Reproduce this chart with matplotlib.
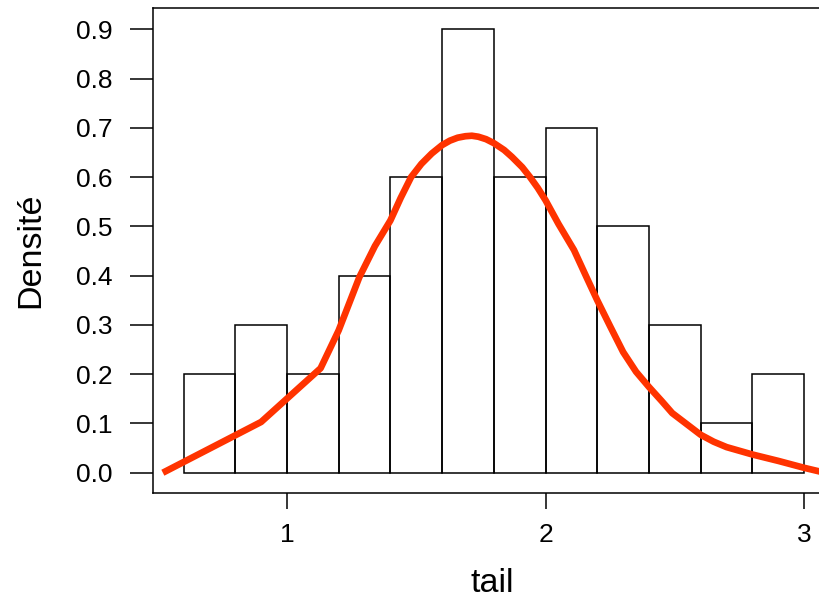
import matplotlib
matplotlib.use("Agg")
import matplotlib.pyplot as plt
import numpy as np

plt.rcParams['font.family'] = ['Liberation Sans', 'DejaVu Sans']

# histogram of tail (density scale, bins of 0.2)
bin_edges = [0.6, 0.8, 1.0, 1.2, 1.4, 1.6, 1.8, 2.0, 2.2, 2.4, 2.6, 2.8, 3.0]
densite = [0.2, 0.3, 0.2, 0.4, 0.6, 0.9, 0.6, 0.7, 0.5, 0.3, 0.1, 0.2]

# estimated density curve
dens_x = [0.52, 0.90, 1.13, 1.20, 1.24, 1.28, 1.34, 1.40, 1.44, 1.48, 1.52, 1.56,
          1.60, 1.63, 1.66, 1.69, 1.715, 1.74, 1.77, 1.80, 1.84, 1.87, 1.91, 1.94,
          1.97, 2.00, 2.05, 2.11, 2.16, 2.20, 2.25, 2.30, 2.35, 2.40, 2.45, 2.49,
          2.55, 2.60, 2.65, 2.70, 2.80, 2.90, 3.00, 3.08]
dens_y = [0.0, 0.103, 0.212, 0.289, 0.343, 0.397, 0.460, 0.512, 0.558, 0.600, 0.627, 0.648,
          0.665, 0.674, 0.680, 0.683, 0.684, 0.682, 0.677, 0.669, 0.655, 0.641, 0.620, 0.600,
          0.578, 0.553, 0.505, 0.452, 0.395, 0.350, 0.297, 0.245, 0.205, 0.174, 0.145, 0.121,
          0.097, 0.077, 0.063, 0.052, 0.037, 0.024, 0.010, 0.0]

fig = plt.figure(figsize=(8.2, 6), dpi=100)
ax = fig.add_axes([0.1862, 0.1778, 0.8321, 0.8093])

lefts = np.array(bin_edges[:-1])
widths = np.diff(bin_edges)
ax.bar(lefts, densite, width=widths, align='edge', fill=False,
       edgecolor='black', linewidth=1.1)
ax.plot(dens_x, dens_y, color='#ff3300', linewidth=4.8,
        solid_capstyle='butt', solid_joinstyle='round')

ax.set_xlim(0.4807, 3.1194)
ax.set_ylim(-0.0418, 0.9438)

ax.set_xticks([1, 2, 3])
yt = np.arange(0, 0.91, 0.1)
ax.set_yticks(yt)
ax.set_yticklabels([f"{v:.1f}" for v in yt])
ax.tick_params(axis='x', direction='out', length=11.5, width=1.1, pad=10, labelsize=19)
ax.tick_params(axis='y', direction='out', length=16.5, width=1.1, pad=12.5, labelsize=19)

for s in ax.spines.values():
    s.set_linewidth(1.1)

ax.set_xlabel('tail', fontsize=24.5)
ax.xaxis.label.set_va('center')
ax.xaxis.set_label_coords(0.497, -0.1847)
ax.set_ylabel('Densité', fontsize=24.5)
ax.yaxis.label.set_ha('center')
ax.yaxis.label.set_va('center')
ax.yaxis.set_label_coords(-0.178, 0.501)

fig.savefig('out.png', dpi=100)
